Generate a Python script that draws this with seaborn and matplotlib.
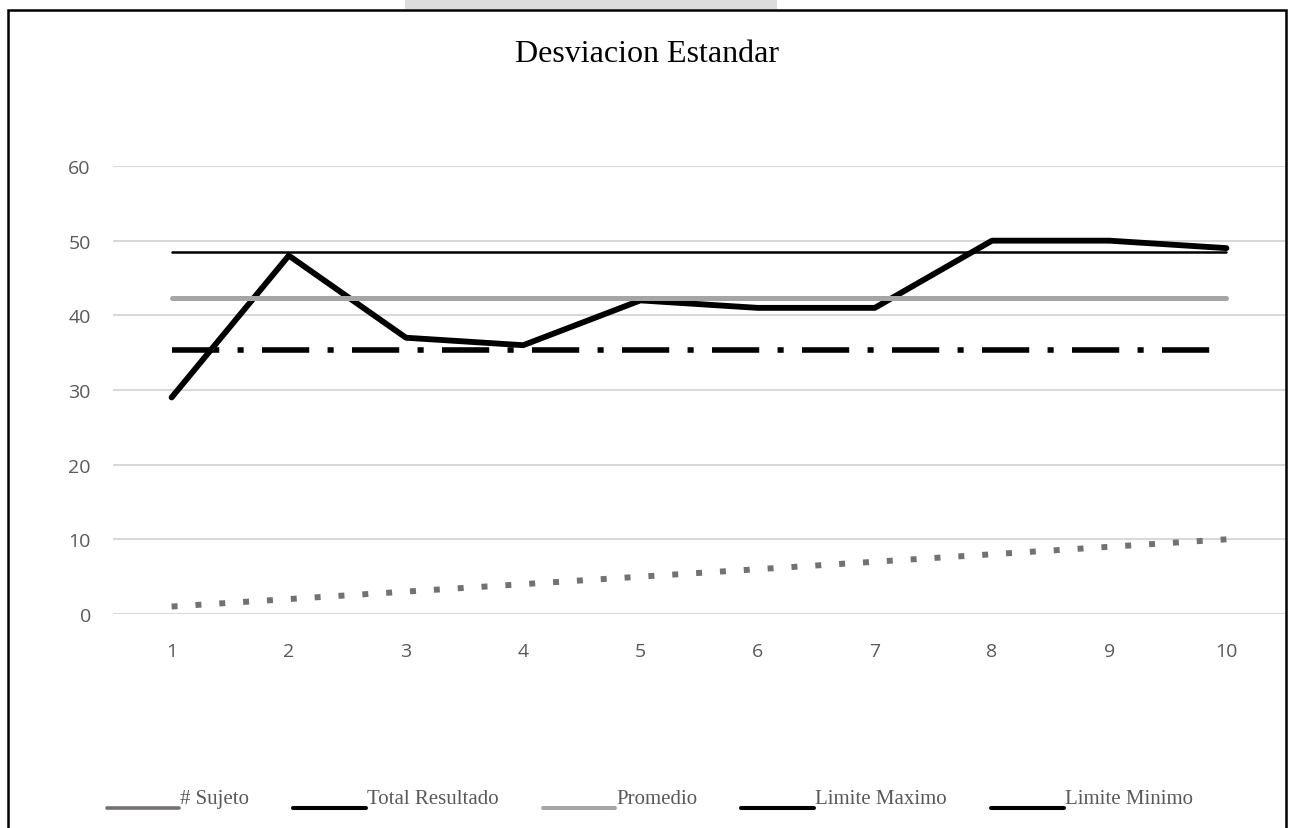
import pandas as pd
import seaborn as sns
import matplotlib.pyplot as plt
from matplotlib.lines import Line2D
from matplotlib.patches import Rectangle
from matplotlib.legend_handler import HandlerLine2D

# data
sujeto = [1, 2, 3, 4, 5, 6, 7, 8, 9, 10]
total_resultado = [29, 48, 37, 36, 42, 41, 41, 50, 50, 49]
promedio = [42.3] * 10
limite_maximo = [48.45] * 10
limite_minimo = [35.3] * 10

df = pd.DataFrame({
    'x': sujeto,
    '# Sujeto': sujeto,
    'Total Resultado': total_resultado,
    'Promedio': promedio,
    'Limite Maximo': limite_maximo,
    'Limite Minimo': limite_minimo,
})


# Excel puts the legend line at the text baseline, not the middle
class LowLine(HandlerLine2D):
    def create_artists(self, legend, orig_handle, xdescent, ydescent,
                       width, height, fontsize, trans):
        arts = super().create_artists(legend, orig_handle, xdescent, ydescent,
                                      width, height, fontsize, trans)
        for a in arts:
            a.set_ydata([y - 0.6 * fontsize for y in a.get_ydata()])
        return arts


sns.set_style('white')
plt.rcParams['font.family'] = ['Open Sans', 'DejaVu Sans']

fig = plt.figure(figsize=(12.94, 8.29), dpi=100)
ax = fig.add_axes([113 / 1294, 1 - 615 / 829, 1172 / 1294, 448 / 829])

# series, drawn in Excel order
sns.lineplot(data=df, x='x', y='# Sujeto', ax=ax, color='#767171', lw=4.3,
             linestyle=(0, (1, 3)), dash_capstyle='butt')
sns.lineplot(data=df, x='x', y='Total Resultado', ax=ax, color='black', lw=4.2)
sns.lineplot(data=df, x='x', y='Promedio', ax=ax, color='#A5A5A5', lw=3.6)
sns.lineplot(data=df, x='x', y='Limite Maximo', ax=ax, color='black', lw=1.8)
sns.lineplot(data=df, x='x', y='Limite Minimo', ax=ax, color='black', lw=4.0,
             linestyle=(0, (8.5, 3.3, 1.1, 3.3)), dash_capstyle='butt')

ax.set_xlim(0.5, 10.5)
ax.set_ylim(0, 60)
ax.set_xticks(sujeto)
ax.set_yticks(range(0, 61, 10))
ax.set_xlabel('')
ax.set_ylabel('')
ax.yaxis.grid(True, color='#D9D9D9', lw=1.5)
ax.xaxis.grid(False)
for s in ax.spines.values():
    s.set_visible(False)
ax.tick_params(axis='both', length=0, labelsize=14, labelcolor='#595959')
ax.tick_params(axis='y', pad=16)
ax.tick_params(axis='x', pad=20)

fig.text(0.5, 1 - 55 / 829, 'Desviacion Estandar', ha='center', va='center',
         fontsize=23, family='Liberation Serif', color='black')

# legend (Excel shows plain solid lines)
handles = [
    Line2D([], [], color='#767171', lw=2.6),
    Line2D([], [], color='black', lw=2.9),
    Line2D([], [], color='#A5A5A5', lw=2.9),
    Line2D([], [], color='black', lw=2.9),
    Line2D([], [], color='black', lw=2.9),
]
labels = ['# Sujeto', 'Total Resultado', 'Promedio', 'Limite Maximo', 'Limite Minimo']
leg = fig.legend(handles, labels, loc='center', bbox_to_anchor=(0.502, 1 - 799 / 829),
                 ncol=5, frameon=False, handlelength=3.5, handletextpad=0.05,
                 columnspacing=2.1, handler_map={Line2D: LowLine()},
                 prop={'family': 'Liberation Serif', 'size': 15})
for t in leg.get_texts():
    t.set_color('#595959')

# outer frame and grey tab at the top
fig.patches.append(Rectangle((8 / 1294, -0.05), 1278 / 1294, 1.05 - 11 / 829,
                             transform=fig.transFigure, fill=False,
                             edgecolor='black', lw=1.8))
fig.patches.append(Rectangle((405 / 1294, 1 - 10 / 829), 372 / 1294, 10 / 829,
                             transform=fig.transFigure, facecolor='#DDDDDD',
                             edgecolor='none'))

fig.savefig('out.png', dpi=100)
